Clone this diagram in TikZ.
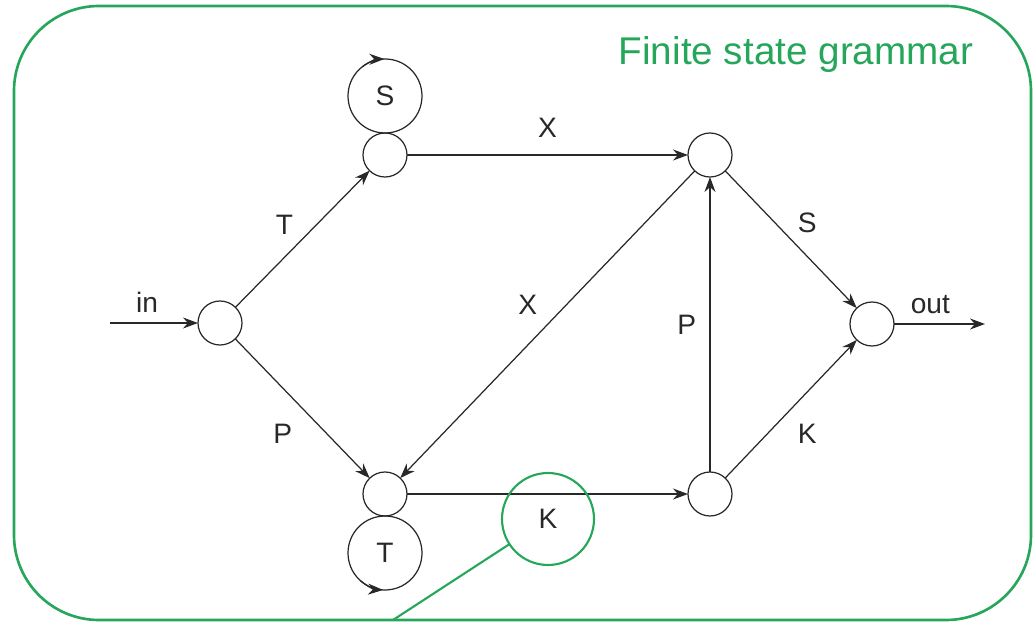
\documentclass[tikz,border=0pt]{standalone}
\usepackage{fontspec}
\setmainfont{Liberation Sans}
\usetikzlibrary{positioning,arrows.meta}
\definecolor{grammargreen}{RGB}{38,166,91}
\definecolor{inkgray}{RGB}{40,40,40}
\newcommand{\labelsize}{\fontsize{16}{19}\selectfont}
\newcommand{\titlesize}{\fontsize{22}{26}\selectfont}
\tikzset{
  statenode/.style={draw=inkgray, circle, line width=0.7pt, minimum size=0.88cm, inner sep=0pt, outer sep=0pt},
  loopnode/.style={draw=inkgray, circle, line width=0.7pt, minimum size=1.48cm, inner sep=0pt, outer sep=0pt, font=\labelsize, text=inkgray},
  marknode/.style={draw=grammargreen, circle, line width=1.2pt, minimum size=1.84cm, inner sep=0pt, outer sep=0pt, font=\labelsize, text=inkgray},
  flowarrow/.style={-{Stealth[length=3mm, width=2.2mm]}, line width=0.7pt, draw=inkgray},
  markline/.style={draw=grammargreen, line width=1.2pt},
  framebox/.style={draw=grammargreen, line width=1.5pt, rounded corners=1.7cm},
  edgelabel/.style={font=\labelsize, text=inkgray, inner sep=3.5pt}
}

\begin{document}
\begin{tikzpicture}
  \useasboundingbox (0,0) rectangle (20.66,12.52);
  % frame and title
  \draw[framebox] (0.28,0.12) rectangle (20.62,12.4);
  \node[font=\titlesize, text=grammargreen] (title) at (15.92,11.42) {Finite state grammar};

  % states
  \node[statenode] (n0) at (4.4,6.06) {};
  \node[statenode] (n1) at (7.7,9.42) {};
  \node[statenode] (n2) at (7.7,2.64) {};
  \node[statenode] (n3) at (14.2,9.42) {};
  \node[statenode] (n4) at (14.2,2.64) {};
  \node[statenode] (n5) at (17.44,6.04) {};
  \coordinate (inpt) at (2.2,6.06);
  \coordinate (outpt) at (19.7,6.04);

  % loops
  \node[loopnode, above=0pt of n1] (sloop) {S};
  \node[loopnode, below=0pt of n2] (tloop) {T};
  \draw[flowarrow] (sloop.128) arc[start angle=128, end angle=91, radius=0.74cm];
  \draw[flowarrow] (tloop.228) arc[start angle=228, end angle=267, radius=0.74cm];

  % transitions
  \draw[flowarrow] (inpt) -- node[edgelabel, above=2pt, pos=0.42] {in} (n0);
  \draw[flowarrow] (n0) -- node[edgelabel, above left, pos=0.48] {T} (n1);
  \draw[flowarrow] (n0) -- node[edgelabel, below left=5pt and 2pt, pos=0.5] {P} (n2);
  \draw[flowarrow] (n1) -- node[edgelabel, above=6pt] {X} (n3);
  \draw[flowarrow] (n3) -- node[edgelabel, above left=3pt, pos=0.5] {X} (n2);
  \draw[flowarrow] (n2) -- (n4);
  \draw[flowarrow] (n4) -- node[edgelabel, left=4pt] {P} (n3);
  \draw[flowarrow] (n3) -- node[edgelabel, above right] {S} (n5);
  \draw[flowarrow] (n4) -- node[edgelabel, below right=5pt and 0pt, pos=0.5] {K} (n5);
  \draw[flowarrow] (n5) -- node[edgelabel, above=2pt, pos=0.4] {out} (outpt);

  % highlighted K
  \node[marknode] (kmark) at (10.96,2.14) {K};
  \coordinate (kfoot) at (7.86,0.12);
  \draw[markline] (kmark) -- (kfoot);
\end{tikzpicture}
\end{document}
